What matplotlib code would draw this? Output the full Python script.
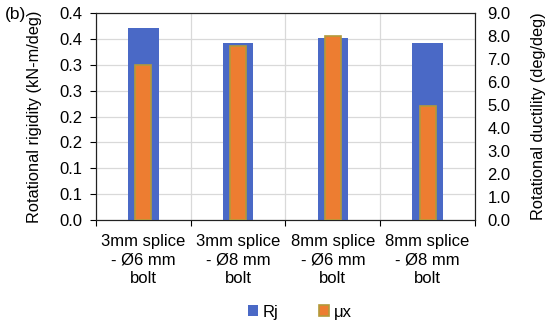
import numpy as np
import matplotlib
matplotlib.use("Agg")
import matplotlib.pyplot as plt

plt.rcParams['font.family'] = ['Liberation Sans', 'DejaVu Sans']

categories = ["3mm splice\n- Ø6 mm\nbolt", "3mm splice\n- Ø8 mm\nbolt",
              "8mm splice\n- Ø6 mm\nbolt", "8mm splice\n- Ø8 mm\nbolt"]
rj = [0.371, 0.342, 0.352, 0.342]      # kN-m/deg (left axis)
mux = [6.74, 7.57, 8.02, 4.96]         # deg/deg (right axis)

left_ticks = [0.0, 0.05, 0.10, 0.15, 0.20, 0.25, 0.30, 0.35, 0.40]
left_labels = ["0.0", "0.1", "0.1", "0.2", "0.2", "0.3", "0.3", "0.4", "0.4"]
right_ticks = [0, 1, 2, 3, 4, 5, 6, 7, 8, 9]

fs = 12
fig = plt.figure(figsize=(5.5, 3.25), dpi=100)
ax = fig.add_axes([0.1745, 0.323, 0.689, 0.637])
ax2 = ax.twinx()

x = np.arange(len(categories))
b1 = ax.bar(x, rj, width=0.32, color='#4A69C6', zorder=3, label='Rj')
b2 = ax2.bar(x, mux, width=0.17, color='#ED7D31', edgecolor='#B39A3A',
             linewidth=1.2, zorder=3, label='μx')

ax.set_xlim(-0.5, 3.5)
ax.set_ylim(0, 0.4)
ax2.set_ylim(0, 9)

ax.set_yticks(left_ticks)
ax.set_yticklabels(left_labels, fontsize=fs)
ax2.set_yticks(right_ticks)
ax2.set_yticklabels([f"{t:.1f}" for t in right_ticks], fontsize=fs)
ax2.tick_params(axis='y', length=0, pad=9)
ax.tick_params(axis='y', length=4, pad=6)

ax.set_xticks(np.arange(-0.5, 4.0, 1.0))
ax.set_xticklabels([])
ax.set_xticks(x, minor=True)
ax.set_xticklabels(categories, minor=True, fontsize=fs, linespacing=1.3)
ax.tick_params(axis='x', which='major', length=4, direction='out')
ax.tick_params(axis='x', which='minor', length=0, pad=10)

ax.grid(True, which='major', color='#D9D9D9', linewidth=0.9, zorder=0)
ax.set_axisbelow(True)

for s in ax.spines.values():
    s.set_color('#222222')
for s in ax2.spines.values():
    s.set_color('#222222')

ax.set_ylabel("Rotational rigidity (kN-m/deg)", fontsize=11.8, labelpad=12)
ax2.set_ylabel("Rotational ductility (deg/deg)", fontsize=11.8, labelpad=15)

fig.text(0.008, 0.955, "(b)", fontsize=12.5, ha='left', va='center')

fig.legend(handles=[b1, b2], loc='center', bbox_to_anchor=(0.545, 0.04),
           ncol=2, frameon=False, fontsize=fs, handlelength=0.6,
           handleheight=0.6, columnspacing=2.4, handletextpad=0.3)

fig.savefig("out.png", dpi=100)
